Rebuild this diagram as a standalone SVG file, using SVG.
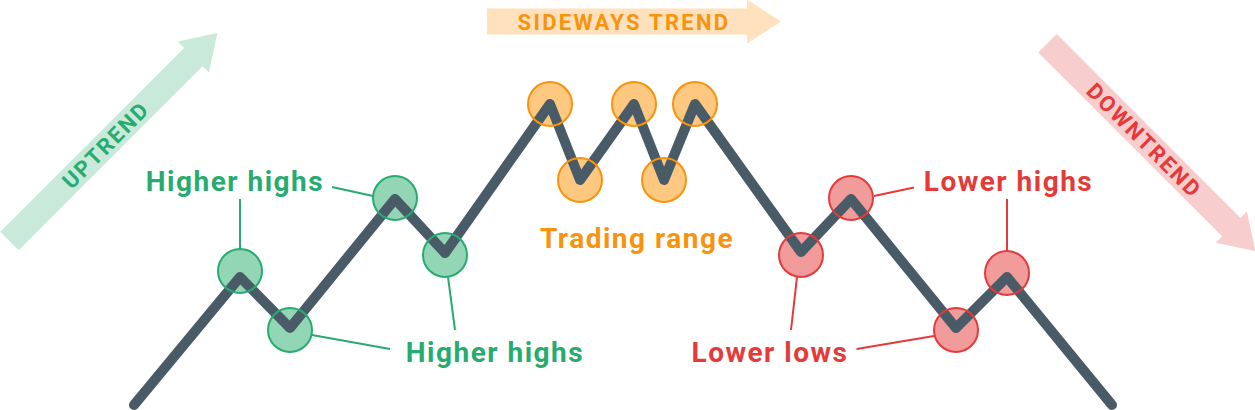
<svg xmlns="http://www.w3.org/2000/svg" width="1255" height="410" viewBox="0 0 1255 410">
<style>
text{font-family:Roboto,"Liberation Sans",sans-serif;font-weight:700;text-anchor:middle}
.lbl{font-size:28px;letter-spacing:1.5px}
.arr{font-size:22px;letter-spacing:2px}
.g{fill:#27ab6f}.o{fill:#f7930c}.r{fill:#e43a3a}
.lg{stroke:#27ab6f;stroke-width:2;fill:none}
.lo{stroke:#f7930c;stroke-width:2;fill:none}
.lr{stroke:#e43a3a;stroke-width:2;fill:none}
.fg{fill:#93d6b6}.fo{fill:#ffc880}.fr{fill:#f29b9b}
.price{fill:none;stroke:#485b66;stroke-width:10;stroke-linecap:round;stroke-linejoin:round}
</style>
<defs>
<polygon id="arrow" points="0,-13 260,-13 260,-22 294,0 260,22 260,13 0,13"/>
</defs>
<g id="uptrend">
<use href="#arrow" fill="#c9eadb" transform="translate(9.5,241) rotate(-45)"/>
<text class="arr g" transform="translate(9.5,241) rotate(-45) translate(136,8)">UPTREND</text>
</g>
<g id="sideways">
<use href="#arrow" fill="#ffe1bd" transform="translate(487,21.5)"/>
<text class="arr o" x="624" y="29.5" style="letter-spacing:2.3px">SIDEWAYS TREND</text>
</g>
<g id="downtrend">
<use href="#arrow" fill="#f8cdcd" transform="translate(1047.5,43.3) rotate(45)"/>
<text class="arr r" transform="translate(1047.5,43.3) rotate(45) translate(137,8)">DOWNTREND</text>
</g>
<g id="fills">
<circle class="fg" cx="240" cy="271" r="22"/>
<circle class="fg" cx="290" cy="330" r="22"/>
<circle class="fg" cx="395" cy="198" r="22"/>
<circle class="fg" cx="445" cy="255" r="22"/>
<circle class="fo" cx="550" cy="104" r="22"/>
<circle class="fo" cx="580" cy="180" r="22"/>
<circle class="fo" cx="634" cy="104" r="22"/>
<circle class="fo" cx="664" cy="180" r="22"/>
<circle class="fo" cx="695" cy="104" r="22"/>
<circle class="fr" cx="801" cy="255" r="22"/>
<circle class="fr" cx="851" cy="198" r="22"/>
<circle class="fr" cx="956" cy="330" r="22"/>
<circle class="fr" cx="1007" cy="273" r="22"/>
</g>
<g id="price-line">
<polyline class="price" points="134,405 240,277 290,328 395,199 445,253 550,104 580,180 634,104 664,180 695,104 801,252 851,199 956,328 1007,277 1112,405"/>
</g>
<g id="connectors">
<line class="lg" x1="240" y1="199" x2="240" y2="249"/>
<line class="lg" x1="332" y1="187" x2="373" y2="196"/>
<line class="lg" x1="312" y1="335" x2="390" y2="349"/>
<line class="lg" x1="448" y1="277" x2="455" y2="330"/>
<line class="lr" x1="874" y1="196" x2="914" y2="187.5"/>
<line class="lr" x1="1007" y1="199" x2="1007" y2="251"/>
<line class="lr" x1="797" y1="277" x2="791" y2="330"/>
<line class="lr" x1="856.5" y1="349" x2="934" y2="336"/>
</g>
<g id="nodes">
<g id="n1"><circle class="lg" cx="240" cy="271" r="22"/></g>
<g id="n2"><circle class="lg" cx="290" cy="330" r="22"/></g>
<g id="n3"><circle class="lg" cx="395" cy="198" r="22"/></g>
<g id="n4"><circle class="lg" cx="445" cy="255" r="22"/></g>
<g id="n5"><circle class="lo" cx="550" cy="104" r="22"/></g>
<g id="n6"><circle class="lo" cx="580" cy="180" r="22"/></g>
<g id="n7"><circle class="lo" cx="634" cy="104" r="22"/></g>
<g id="n8"><circle class="lo" cx="664" cy="180" r="22"/></g>
<g id="n9"><circle class="lo" cx="695" cy="104" r="22"/></g>
<g id="n10"><circle class="lr" cx="801" cy="255" r="22"/></g>
<g id="n11"><circle class="lr" cx="851" cy="198" r="22"/></g>
<g id="n12"><circle class="lr" cx="956" cy="330" r="22"/></g>
<g id="n13"><circle class="lr" cx="1007" cy="273" r="22"/></g>
</g>
<g id="labels">
<text class="lbl g" x="235" y="191">Higher highs</text>
<text class="lbl g" x="495" y="362">Higher highs</text>
<text class="lbl o" x="637" y="247.5">Trading range</text>
<text class="lbl r" x="1008.5" y="191">Lower highs</text>
<text class="lbl r" x="770" y="362">Lower lows</text>
</g>
</svg>
